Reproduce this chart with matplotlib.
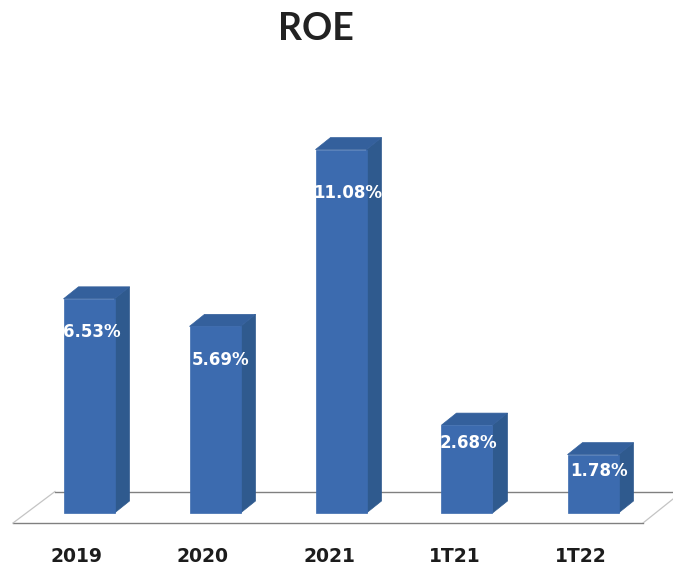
import matplotlib
matplotlib.use("Agg")
import matplotlib.pyplot as plt
from matplotlib.patches import Polygon
from matplotlib.transforms import ScaledTranslation

categories = ["2019", "2020", "2021", "1T21", "1T22"]
roe_values = [6.53, 5.69, 11.08, 2.68, 1.78]
value_labels = ["6.53%", "5.69%", "11.08%", "2.68%", "1.78%"]
label_drop = [33, 34, 43, 18, 16]  # px below the top of the front face
label_shift = [3, 6, 7, 1, 6]      # px from the bar centre

W, H = 673, 571
PX_PER_X = 126.0
PX_PER_Y = 32.8
X0_PX = 89.0
BASE_PX = 513.0
FLOOR_PX = 523.0
BAR_W = 51 / PX_PER_X
DX = 15 / PX_PER_X
DY = 12 / PX_PER_Y

FRONT = "#3C6BAF"
SIDE = "#2F5A8E"
TOP = "#34609C"

plt.rcParams["font.family"] = ["DejaVu Sans"]
fig = plt.figure(figsize=(W / 100, H / 100), dpi=100, facecolor="white")
ax = fig.add_axes([0, (H - FLOOR_PX) / H, 1, FLOOR_PX / H])
ax.set_xlim(-X0_PX / PX_PER_X, (W - X0_PX) / PX_PER_X)
ax.set_ylim(-(FLOOR_PX - BASE_PX) / PX_PER_Y, BASE_PX / PX_PER_Y)
for s in ax.spines.values():
    s.set_visible(False)
ax.set_yticks([])
ax.set_xticks(range(len(categories)))
ax.set_xticklabels(categories, fontsize=13.5, fontweight="bold", color="#1c1c1c")
ax.tick_params(axis="x", length=0, pad=17)
# labels sit a little left of the bars, on the front edge of the 3D floor
shift = ScaledTranslation(-12 / 100, 0, fig.dpi_scale_trans)
for lab in ax.get_xticklabels():
    lab.set_transform(lab.get_transform() + shift)

# floor
fx = lambda p: (p - X0_PX) / PX_PER_X
fy = lambda p: (BASE_PX - p) / PX_PER_Y
ax.plot([fx(13), fx(643)], [fy(523), fy(523)], color="#808080", lw=1, clip_on=False, zorder=1)
ax.plot([fx(55), fx(673)], [fy(491.5), fy(491.5)], color="#808080", lw=1, zorder=1)
ax.plot([fx(13), fx(55)], [fy(523), fy(491.5)], color="#c4c4c4", lw=0.9, clip_on=False, zorder=1)
ax.plot([fx(643), fx(673)], [fy(523), fy(499)], color="#c4c4c4", lw=0.9, zorder=1)

xs = list(range(len(categories)))
ax.bar(xs, roe_values, width=BAR_W, color=FRONT, edgecolor=FRONT, linewidth=0.5, zorder=4)
for x, v in zip(xs, roe_values):
    l, r = x - BAR_W / 2, x + BAR_W / 2
    ax.add_patch(Polygon([(r, 0), (r + DX, DY), (r + DX, v + DY), (r, v)], closed=True,
                         facecolor=SIDE, edgecolor=SIDE, linewidth=0.5, zorder=3))
    ax.add_patch(Polygon([(l, v), (l + DX, v + DY), (r + DX, v + DY), (r, v)], closed=True,
                         facecolor=TOP, edgecolor=TOP, linewidth=0.5, zorder=3))

for x, v, t, d, sh in zip(xs, roe_values, value_labels, label_drop, label_shift):
    ax.annotate(t, (x, v), xytext=(sh * 0.72, -d * 0.72), textcoords="offset points",
                ha="center", va="center", color="white", fontsize=12, fontweight="bold", zorder=5)

fig.text(316 / W, 1 - 29 / H, "ROE", ha="center", va="center", fontsize=27,
         fontweight="bold", family="Lato", color="#222222")

fig.savefig("out.png", dpi=100)
